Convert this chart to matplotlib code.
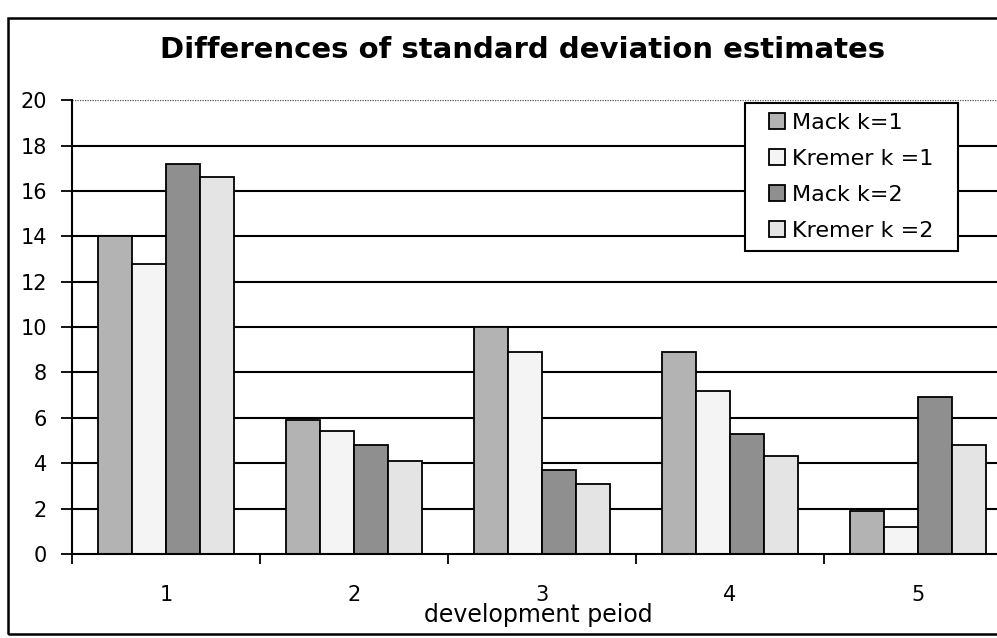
import matplotlib
matplotlib.use("Agg")
import matplotlib.pyplot as plt
import numpy as np
from matplotlib.patches import Rectangle
from matplotlib.ticker import FixedLocator

plt.rcParams['font.family'] = ['DejaVu Sans']

periods = ["1", "2", "3", "4", "5"]
series_names = ["Mack k=1", "Kremer k =1", "Mack k=2", "Kremer k =2"]
mack_k1 = [14.0, 5.9, 10.0, 8.9, 1.9]
kremer_k1 = [12.8, 5.4, 8.9, 7.2, 1.2]
mack_k2 = [17.2, 4.8, 3.7, 5.3, 6.9]
kremer_k2 = [16.6, 4.1, 3.1, 4.3, 4.8]
y_ticks = [0, 2, 4, 6, 8, 10, 12, 14, 16, 18, 20]

series = [mack_k1, kremer_k1, mack_k2, kremer_k2]
colors = ["#b3b3b3", "#f4f4f4", "#8f8f8f", "#e4e4e4"]

W, H = 997, 638
fig = plt.figure(figsize=(W / 100, H / 100), dpi=100)
ax = fig.add_axes([0.0722, 0.1317, 0.943, 0.7113])

x = np.arange(1, len(periods) + 1)
bw = 0.18
offsets = (np.arange(len(series)) - 1.5) * bw
for vals, off, col, name in zip(series, offsets, colors, series_names):
    ax.bar(x + off, vals, width=bw, color=col, edgecolor="black",
           linewidth=1.3, label=name, zorder=3)

# horizontal gridlines: solid, the top one dotted
for yv in y_ticks[1:-1]:
    ax.axhline(yv, color="black", linewidth=1.5, zorder=1)
ax.axhline(20, color="#555555", linewidth=0.9, linestyle=(0, (1, 1)), zorder=1)

ax.set_xlim(0.5, 5.5)
ax.set_ylim(0, 20)
ax.set_yticks(y_ticks)
ax.set_xticks(x)
ax.set_xticklabels(periods)
ax.xaxis.set_minor_locator(FixedLocator(np.arange(0.5, 6.0, 1.0)))
ax.tick_params(axis="x", which="major", length=0, pad=22, labelsize=15)
ax.tick_params(axis="x", which="minor", length=7, width=1.3, direction="out")
ax.tick_params(axis="y", which="major", length=8, width=1.3, pad=10, labelsize=15)

for side in ("top", "right"):
    ax.spines[side].set_visible(False)
for side in ("left", "bottom"):
    ax.spines[side].set_linewidth(1.5)
    ax.spines[side].set_zorder(4)

ax.set_xlabel("development peiod", fontsize=17, labelpad=-1, x=0.496)

fig.text(0.524, 0.922, "Differences of standard deviation estimates",
         ha="center", va="center", fontsize=21, fontweight="bold")

leg = ax.legend(loc="upper right", bbox_to_anchor=(0.927, 0.994),
                fontsize=16, frameon=False, handlelength=0.75,
                handleheight=0.75, handletextpad=0.3, labelspacing=0.72,
                borderpad=0.45, borderaxespad=0)
leg.set_zorder(5)

# legend box: wider side margins than the default frame gives
fig.canvas.draw()
bb = leg.get_window_extent()
padx = 14
box = Rectangle(((bb.x0 - padx) / W, bb.y0 / H), (bb.width + 2 * padx) / W,
                bb.height / H, transform=fig.transFigure, facecolor="white",
                edgecolor="black", linewidth=1.5, zorder=4.5, clip_on=False)
ax.add_patch(box)

# outer chart frame
fig.patches.append(Rectangle((8 / W, 4 / H), 1.2, 616 / H,
                             transform=fig.transFigure, fill=False,
                             edgecolor="black", linewidth=1.8))

fig.savefig("out.png", dpi=100)
